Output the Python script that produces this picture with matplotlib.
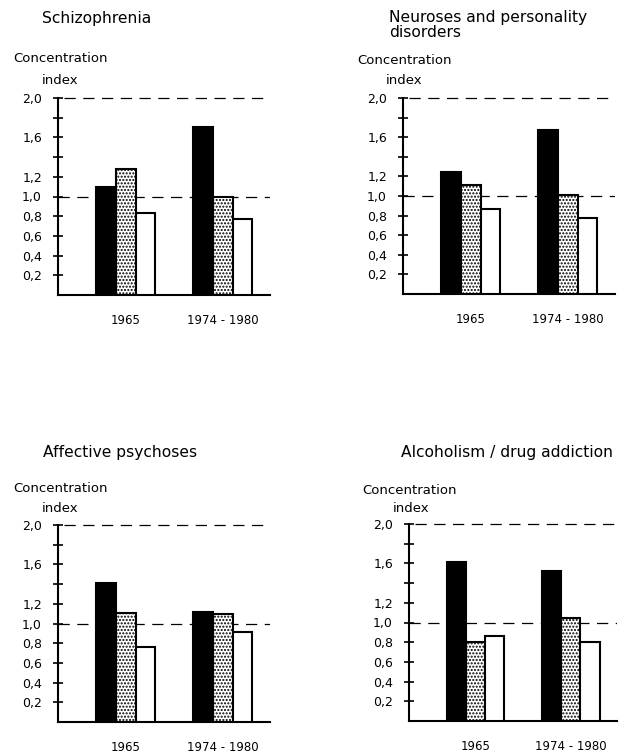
import matplotlib
matplotlib.use('Agg')
import matplotlib.pyplot as plt

# data
periods = ['1965', '1974 - 1980']
panel_titles = ['Schizophrenia', 'Neuroses and personality\ndisorders',
                'Affective psychoses', 'Alcoholism / drug addiction']
black_vals = [[1.10, 1.71], [1.24, 1.67], [1.41, 1.12], [1.61, 1.52]]
dotted_vals = [[1.28, 1.00], [1.11, 1.01], [1.11, 1.10], [0.80, 1.05]]
white_vals = [[0.83, 0.77], [0.87, 0.78], [0.76, 0.91], [0.86, 0.80]]
ytick_vals = [0.2, 0.4, 0.6, 0.8, 1.0, 1.2, 1.4, 1.6, 1.8, 2.0]
ytick_labels = ['0,2', '0,4', '0,6', '0,8', '1,0', '1,2', '', '1,6', '', '2,0']

W, H = 624, 753
plt.rcParams['font.family'] = 'DejaVu Sans'
plt.rcParams['hatch.linewidth'] = 1.0
fig = plt.figure(figsize=(W / 100, H / 100), dpi=100)

# axes boxes in pixels: left, top, right, bottom
boxes = [(58, 98, 270, 295), (403, 98, 615, 294),
         (58, 525, 270, 722), (409, 524, 617, 721)]
title_pos = [(42, 19), (389, 25), (43, 452), (401, 452)]
conc_pos = [(13, 58), (357, 60), (13, 488), (362, 490)]
index_pos = [(42, 80), (386, 80), (42, 509), (393, 509)]

group_x = [3.45, 8.4]
bw = 1.0

for i in range(4):
    l, t, r, b = boxes[i]
    ax = fig.add_axes([l / W, 1 - b / H, (r - l) / W, (b - t) / H])
    ax.set_xlim(0, 10.8)
    ax.set_ylim(0, 2.0)
    ax.axhline(1.0, color='black', lw=0.9, dashes=(9, 6), zorder=1)
    ax.axhline(2.0, xmin=0.03, color='black', lw=0.9, dashes=(9, 6),
               zorder=1, clip_on=False)
    xs = group_x
    ax.bar([x - bw for x in xs], black_vals[i], width=bw, color='black',
           edgecolor='black', lw=1.5, zorder=3)
    ax.bar(xs, dotted_vals[i], width=bw, color='white', edgecolor='black',
           hatch='.....', lw=1.5, zorder=3)
    ax.bar([x + bw for x in xs], white_vals[i], width=bw, color='white',
           edgecolor='black', lw=1.5, zorder=3)
    for s in ['top', 'right']:
        ax.spines[s].set_visible(False)
    ax.spines['left'].set_linewidth(1.5)
    ax.spines['bottom'].set_linewidth(1.5)
    ax.set_yticks(ytick_vals)
    ax.set_yticklabels(ytick_labels)
    ax.tick_params(axis='y', direction='inout', length=7, width=1.2,
                   labelsize=9, pad=8)
    ax.set_xticks(xs)
    ax.set_xticklabels(periods)
    ax.tick_params(axis='x', length=0, labelsize=8.5, pad=14)

    tx, ty = title_pos[i]
    fig.text(tx / W, 1 - ty / H, panel_titles[i], fontsize=11.2,
             ha='left', va='center', linespacing=1.05)
    cx, cy = conc_pos[i]
    fig.text(cx / W, 1 - cy / H, 'Concentration', fontsize=9.5,
             ha='left', va='center')
    ix, iy = index_pos[i]
    fig.text(ix / W, 1 - iy / H, 'index', fontsize=9.5,
             ha='left', va='center')

fig.savefig('out.png', dpi=100)
